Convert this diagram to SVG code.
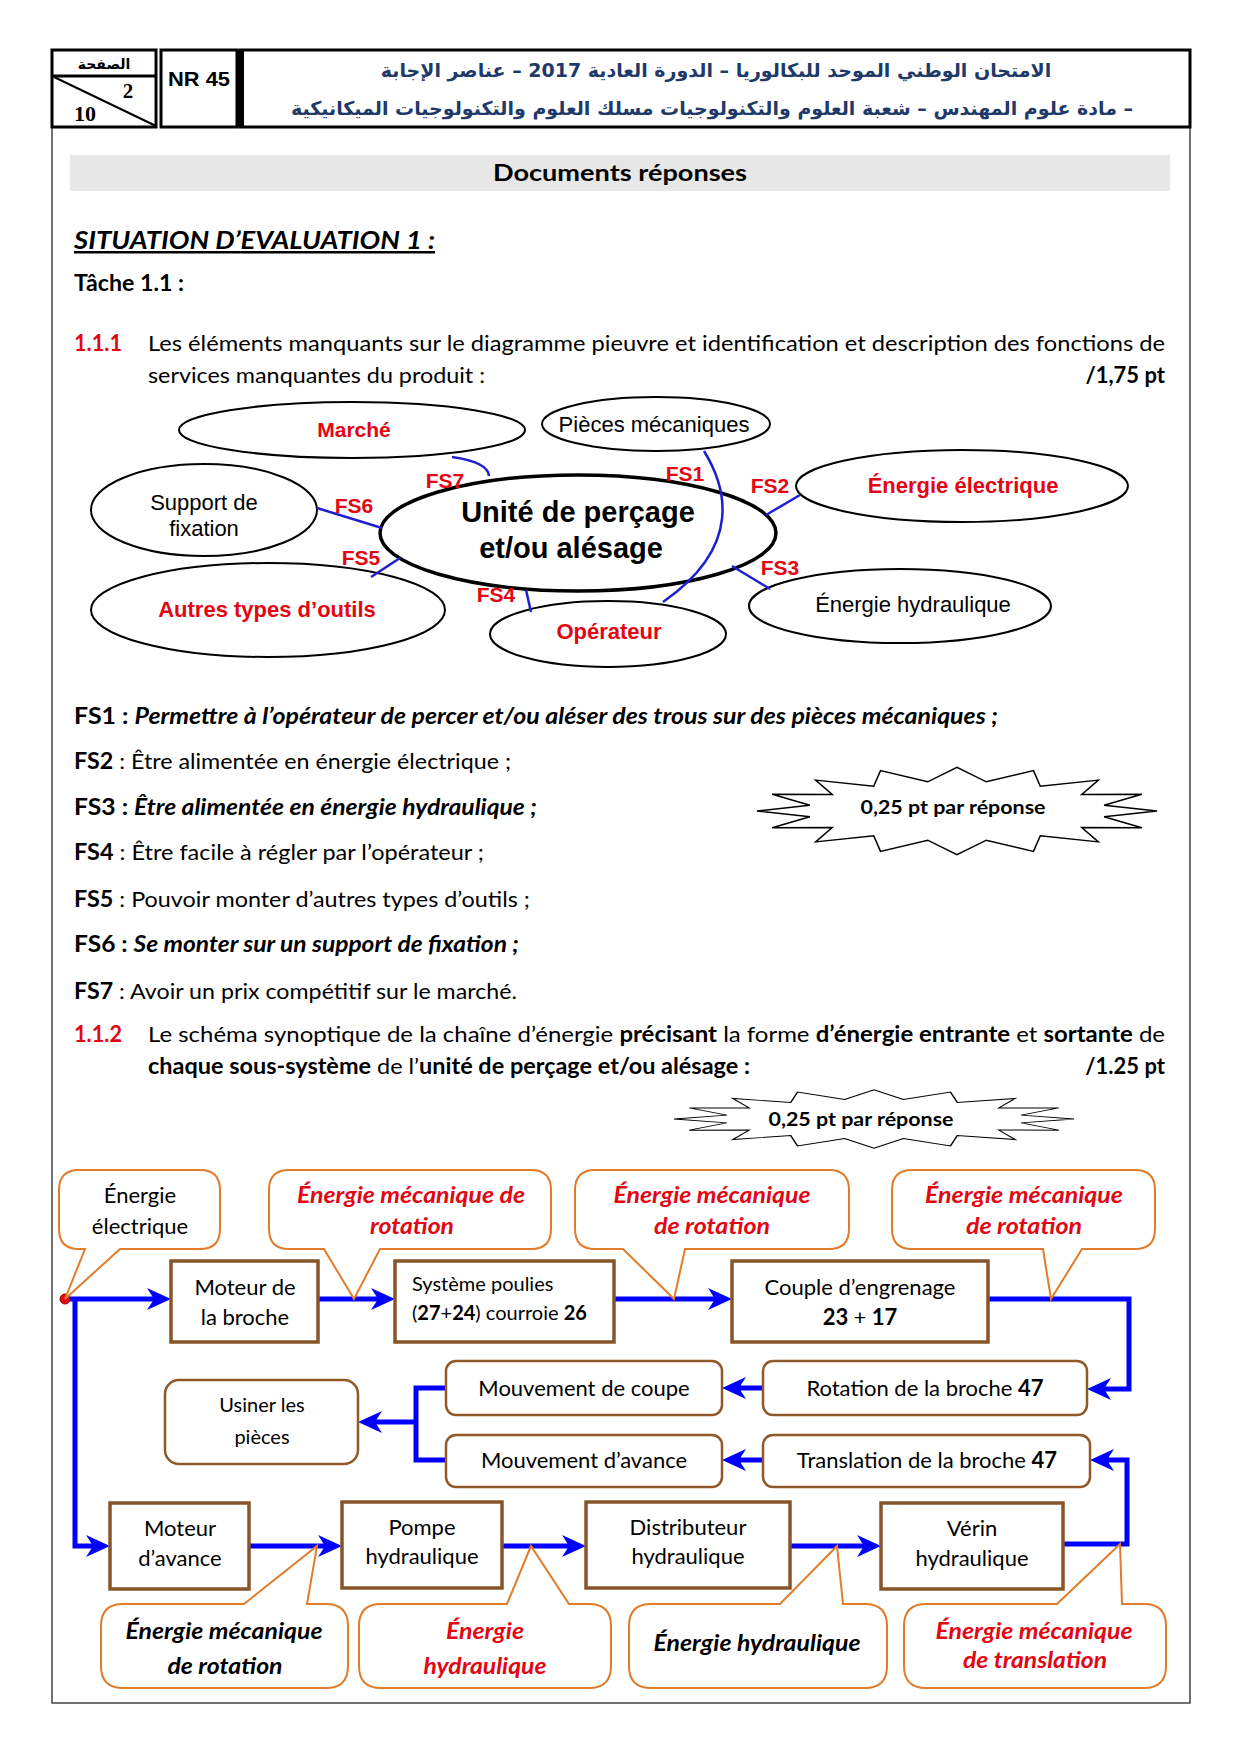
<svg xmlns="http://www.w3.org/2000/svg" xmlns:xlink="http://www.w3.org/1999/xlink" width="1240" height="1754" viewBox="0 0 1240 1754">
<style>
.c{font-family:Lato,"Open Sans","Liberation Sans",sans-serif;fill:#000}
.a{font-family:"Liberation Sans",Arial,sans-serif;fill:#000}
.ar{font-family:"DejaVu Sans",sans-serif;font-weight:bold;fill:#1F3A68}
.b{font-weight:bold}
.i{font-style:italic}
.red{fill:#E30613}
.mid{text-anchor:middle}
.end{text-anchor:end}
.fr{stroke:#000;fill:none}
.box{fill:#fff;stroke:#86552A;stroke-width:3.5}
.rbox{fill:#fff;stroke:#8F5A28;stroke-width:2.5}
.call{fill:#fff;stroke:#E07C2A;stroke-width:2}
.ell{fill:#fff;stroke:#000;stroke-width:2}
.pl{fill:none;stroke:#1F1FD0;stroke-width:2.5}
.fl{fill:none;stroke:#0000FF;stroke-width:5}
.fa{marker-end:url(#ar)}
.burst{fill:#fff;stroke:#000;stroke-width:1.5}
</style>
<defs>
<marker id="ar" markerUnits="userSpaceOnUse" markerWidth="26" markerHeight="24" refX="12" refY="12" orient="auto">
<path d="M0,1 L24,12 L0,23 L7,12 Z" fill="#0000FF"/>
</marker>
<polygon id="star" points="200,0 147.1,6.2 184.8,18 124.7,17.8 141.4,33.2 83.3,26.6 76.5,43.4 29.3,31.4 0,47 -29.3,31.4 -76.5,43.4 -83.3,26.6 -141.4,33.2 -124.7,17.8 -184.8,18 -147.1,6.2 -200,0 -147.1,-6.2 -184.8,-18 -124.7,-17.8 -141.4,-33.2 -83.3,-26.6 -76.5,-43.4 -29.3,-31.4 0,-47 29.3,-31.4 76.5,-43.4 83.3,-26.6 141.4,-33.2 124.7,-17.8 184.8,-18 147.1,-6.2"/>
</defs>
<rect width="1240" height="1754" fill="#fff"/>

<!-- page frame -->
<g id="frame">
<path d="M52,127 V1703 H1190 V127" fill="none" stroke="#444" stroke-width="1.5"/>
</g>

<!-- header -->
<g id="header">
<rect x="52" y="50" width="104" height="77" class="fr" stroke-width="3"/>
<line x1="52" y1="76" x2="156" y2="76" stroke="#000" stroke-width="3"/>
<line x1="54" y1="77" x2="156" y2="126" stroke="#000" stroke-width="2"/>
<text x="104" y="69" class="ar mid" style="fill:#000" font-size="14">الصفحة</text>
<text x="128" y="98" font-family="Liberation Serif,serif" font-weight="bold" font-size="21" text-anchor="middle">2</text>
<text x="85" y="121" font-family="Liberation Serif,serif" font-weight="bold" font-size="22" text-anchor="middle">10</text>
<rect x="161" y="50" width="76" height="77" class="fr" stroke-width="3"/>
<text x="199" y="86" class="a b mid" font-size="21" textLength="62" lengthAdjust="spacingAndGlyphs">NR 45</text>
<rect x="240" y="50" width="950" height="77" class="fr" stroke-width="3"/>
<line x1="241" y1="50" x2="241" y2="127" stroke="#000" stroke-width="6"/>
<text x="716" y="77" class="ar mid" font-size="19" direction="rtl">الامتحان الوطني الموحد للبكالوريا – الدورة العادية 2017 – عناصر الإجابة</text>
<text x="712" y="115" class="ar mid" font-size="19" direction="rtl">– مادة علوم المهندس –  شعبة العلوم والتكنولوجيات مسلك العلوم والتكنولوجيات الميكانيكية</text>
</g>

<!-- titles -->
<g id="titles">
<rect x="70" y="155" width="1100" height="36" fill="#E7E7E7"/>
<text x="620" y="181" class="c b mid" font-size="23" textLength="254" lengthAdjust="spacingAndGlyphs">Documents réponses</text>
<text x="74" y="249" class="c b i" font-size="25" text-decoration="underline" textLength="361" lengthAdjust="spacingAndGlyphs">SITUATION D’EVALUATION 1 :</text>
<text x="74" y="291" class="c b" font-size="22" textLength="110" lengthAdjust="spacingAndGlyphs">Tâche 1.1 :</text>
<text x="74" y="351" class="c b red" font-size="22" textLength="48" lengthAdjust="spacingAndGlyphs">1.1.1</text>
<text x="148" y="351" class="c" font-size="22" textLength="1017" lengthAdjust="spacingAndGlyphs">Les éléments manquants sur le diagramme pieuvre et identification et description des fonctions de</text>
<text x="148" y="383" class="c" font-size="22" textLength="337" lengthAdjust="spacingAndGlyphs">services manquantes du produit :</text>
<text x="1165" y="383" class="c b end" font-size="22">/1,75 pt</text>
</g>

<!-- pieuvre nodes -->
<g id="n-marche"><ellipse cx="352" cy="430" rx="173" ry="28" class="ell"/><text x="354" y="437" class="a b red mid" font-size="21">Marché</text></g>
<g id="n-pieces"><ellipse cx="656" cy="424" rx="114" ry="27" class="ell"/><text x="654" y="432" class="a mid" font-size="22">Pièces mécaniques</text></g>
<g id="n-support"><ellipse cx="204" cy="510" rx="113" ry="46" class="ell"/><text x="204" y="510" class="a mid" font-size="22">Support de</text><text x="204" y="536" class="a mid" font-size="22">fixation</text></g>
<g id="n-central"><ellipse cx="578" cy="533" rx="198" ry="58" fill="#fff" stroke="#000" stroke-width="3.5"/><text x="578" y="522" class="a b mid" font-size="29">Unité de perçage</text><text x="571" y="558" class="a b mid" font-size="29">et/ou alésage</text></g>
<g id="n-elec"><ellipse cx="962" cy="486" rx="166" ry="36" class="ell"/><text x="963" y="493" class="a b red mid" font-size="22">Énergie électrique</text></g>
<g id="n-autres"><ellipse cx="268" cy="610" rx="177" ry="47" class="ell"/><text x="267" y="617" class="a b red mid" font-size="22">Autres types d’outils</text></g>
<g id="n-operateur"><ellipse cx="608" cy="634" rx="118" ry="33" class="ell"/><text x="609" y="639" class="a b red mid" font-size="22">Opérateur</text></g>
<g id="n-hydro"><ellipse cx="900" cy="606" rx="151" ry="37" class="ell"/><text x="913" y="612" class="a mid" font-size="22">Énergie hydraulique</text></g>

<!-- pieuvre connectors -->
<g id="pieuvre-connectors">
<path class="pl" d="M452,457 Q488,462 489,476"/>
<path class="pl" d="M704,451 C725,485 745,545 663,602"/>
<path class="pl" d="M766,515 L800,495"/>
<path class="pl" d="M732,566 L770,589"/>
<path class="pl" d="M526,590 L531,612"/>
<path class="pl" d="M400,558 L371,577"/>
<path class="pl" d="M317,508 L382,528"/>
<g class="a b red" font-size="21" text-anchor="middle">
<text x="445" y="488">FS7</text>
<text x="685" y="481">FS1</text>
<text x="770" y="493">FS2</text>
<text x="780" y="575">FS3</text>
<text x="496" y="602">FS4</text>
<text x="361" y="565">FS5</text>
<text x="354" y="513">FS6</text>
</g>
</g>

<!-- FS list -->
<g id="fs-list" class="c" font-size="22">
<text x="74" y="724" textLength="924" lengthAdjust="spacingAndGlyphs"><tspan class="b">FS1 : </tspan><tspan class="b i">Permettre à l’opérateur de percer et/ou aléser des trous sur des pièces mécaniques ;</tspan></text>
<text x="74" y="769" textLength="437" lengthAdjust="spacingAndGlyphs"><tspan class="b">FS2</tspan> : Être alimentée en énergie électrique ;</text>
<text x="74" y="815" textLength="463" lengthAdjust="spacingAndGlyphs"><tspan class="b">FS3 : </tspan><tspan class="b i">Être alimentée en énergie hydraulique ;</tspan></text>
<text x="74" y="860" textLength="410" lengthAdjust="spacingAndGlyphs"><tspan class="b">FS4</tspan> : Être facile à régler par l’opérateur ;</text>
<text x="74" y="907" textLength="456" lengthAdjust="spacingAndGlyphs"><tspan class="b">FS5</tspan> : Pouvoir monter d’autres types d’outils ;</text>
<text x="74" y="952" textLength="445" lengthAdjust="spacingAndGlyphs"><tspan class="b">FS6 : </tspan><tspan class="b i">Se monter sur un support de fixation ;</tspan></text>
<text x="74" y="999" textLength="443" lengthAdjust="spacingAndGlyphs"><tspan class="b">FS7</tspan> : Avoir un prix compétitif sur le marché.</text>
</g>

<g id="burst1">
<use xlink:href="#star" href="#star" class="burst" transform="translate(957,811) scale(1,0.93)"/>
<text x="953" y="814" class="c b mid" font-size="19" textLength="185" lengthAdjust="spacingAndGlyphs">0,25 pt par réponse</text>
</g>

<!-- 1.1.2 -->
<g id="q112" class="c" font-size="22">
<text x="74" y="1042" class="b red" textLength="48" lengthAdjust="spacingAndGlyphs">1.1.2</text>
<text x="148" y="1042" textLength="1017" lengthAdjust="spacingAndGlyphs">Le schéma synoptique de la chaîne d’énergie <tspan class="b">précisant</tspan> la forme <tspan class="b">d’énergie entrante</tspan> et <tspan class="b">sortante</tspan> de</text>
<text x="148" y="1074" textLength="602" lengthAdjust="spacingAndGlyphs"><tspan class="b">chaque sous-système</tspan> de l’<tspan class="b">unité de perçage et/ou alésage :</tspan></text>
<text x="1165" y="1074" class="b end">/1.25 pt</text>
</g>

<g id="burst2">
<use xlink:href="#star" href="#star" class="burst" transform="translate(874,1119) scale(1,0.62)"/>
<text x="861" y="1126" class="c b mid" font-size="19" textLength="185" lengthAdjust="spacingAndGlyphs">0,25 pt par réponse</text>
</g>

<!-- flow connectors -->
<g id="flow-connectors">
<path class="fl fa" d="M65,1299 H159"/>
<path class="fl fa" d="M318,1299 H383"/>
<path class="fl fa" d="M614,1299 H720"/>
<path class="fl fa" d="M988,1299 H1129 V1389 H1099"/>
<path class="fl fa" d="M763,1388 H734"/>
<path class="fl fa" d="M763,1460 H734"/>
<path class="fl" d="M446,1388 H416 V1460 H446"/>
<path class="fl fa" d="M416,1422 H370"/>
<path class="fl fa" d="M75,1299 V1546 H98"/>
<path class="fl fa" d="M249,1546 H330"/>
<path class="fl fa" d="M502,1546 H574"/>
<path class="fl fa" d="M790,1546 H869"/>
<path class="fl fa" d="M1063,1544 H1127 V1460 H1102"/>
<circle cx="65" cy="1299" r="5" fill="#E30613" stroke="#900" stroke-width="1"/>
</g>

<!-- top callouts -->
<g id="c-elec"><path class="call" d="M79,1170 H200 Q220,1170 220,1190 V1229 Q220,1249 200,1249 H120 L65,1299 L85,1249 H79 Q59,1249 59,1229 V1190 Q59,1170 79,1170 Z"/>
<text x="140" y="1203" class="c mid" font-size="22">Énergie</text><text x="140" y="1234" class="c mid" font-size="22">électrique</text></g>
<g id="c-rot1"><path class="call" d="M289,1170 H531 Q551,1170 551,1190 V1229 Q551,1249 531,1249 H380 L354,1299 L324,1249 H289 Q269,1249 269,1229 V1190 Q269,1170 289,1170 Z"/>
<text x="411" y="1203" class="c b i red mid" font-size="23" textLength="228" lengthAdjust="spacingAndGlyphs">Énergie mécanique de</text><text x="412" y="1234" class="c b i red mid" font-size="23" textLength="84" lengthAdjust="spacingAndGlyphs">rotation</text></g>
<g id="c-rot2"><path class="call" d="M595,1170 H829 Q849,1170 849,1190 V1229 Q849,1249 829,1249 H685 L674,1299 L623,1249 H595 Q575,1249 575,1229 V1190 Q575,1170 595,1170 Z"/>
<text x="712" y="1203" class="c b i red mid" font-size="23" textLength="197" lengthAdjust="spacingAndGlyphs">Énergie mécanique</text><text x="712" y="1234" class="c b i red mid" font-size="23" textLength="116" lengthAdjust="spacingAndGlyphs">de rotation</text></g>
<g id="c-rot3"><path class="call" d="M912,1170 H1135 Q1155,1170 1155,1190 V1229 Q1155,1249 1135,1249 H1082 L1051,1299 L1043,1249 H912 Q892,1249 892,1229 V1190 Q892,1170 912,1170 Z"/>
<text x="1024" y="1203" class="c b i red mid" font-size="23" textLength="198" lengthAdjust="spacingAndGlyphs">Énergie mécanique</text><text x="1024" y="1234" class="c b i red mid" font-size="23" textLength="116" lengthAdjust="spacingAndGlyphs">de rotation</text></g>

<!-- row 1 boxes -->
<g id="b-moteur-broche"><rect x="171" y="1261" width="147" height="81" class="box"/>
<text x="245" y="1295" class="c mid" font-size="22">Moteur de</text><text x="245" y="1325" class="c mid" font-size="22">la broche</text></g>
<g id="b-poulies"><rect x="395" y="1261" width="219" height="81" class="box"/>
<text x="412" y="1291" class="c" font-size="20">Système poulies</text><text x="412" y="1320" class="c" font-size="20">(<tspan class="b">27</tspan>+<tspan class="b">24</tspan>) courroie <tspan class="b">26</tspan></text></g>
<g id="b-engrenage"><rect x="732" y="1261" width="256" height="81" class="box"/>
<text x="860" y="1295" class="c mid" font-size="22">Couple d’engrenage</text><text x="860" y="1325" class="c b mid" font-size="22">23 <tspan font-weight="normal">+</tspan> 17</text></g>

<!-- row 2 -->
<g id="b-rotation"><rect x="763" y="1361" width="324" height="54" rx="10" class="rbox"/>
<text x="925" y="1396" class="c mid" font-size="22">Rotation de la broche <tspan class="b">47</tspan></text></g>
<g id="b-coupe"><rect x="446" y="1361" width="276" height="54" rx="10" class="rbox"/>
<text x="584" y="1396" class="c mid" font-size="22">Mouvement de coupe</text></g>
<g id="b-translation"><rect x="763" y="1435" width="327" height="52" rx="10" class="rbox"/>
<text x="927" y="1468" class="c mid" font-size="22">Translation de la broche <tspan class="b">47</tspan></text></g>
<g id="b-avance-mvt"><rect x="446" y="1435" width="276" height="52" rx="10" class="rbox"/>
<text x="584" y="1468" class="c mid" font-size="22">Mouvement d’avance</text></g>
<g id="b-usiner"><rect x="165" y="1380" width="193" height="84" rx="14" class="rbox"/>
<text x="262" y="1412" class="c mid" font-size="20">Usiner les</text><text x="262" y="1444" class="c mid" font-size="20">pièces</text></g>

<!-- row 3 boxes -->
<g id="b-moteur-avance"><rect x="110" y="1503" width="139" height="86" class="box"/>
<text x="180" y="1536" class="c mid" font-size="22">Moteur</text><text x="180" y="1566" class="c mid" font-size="22">d’avance</text></g>
<g id="b-pompe"><rect x="342" y="1502" width="160" height="86" class="box"/>
<text x="422" y="1535" class="c mid" font-size="22">Pompe</text><text x="422" y="1564" class="c mid" font-size="22">hydraulique</text></g>
<g id="b-distributeur"><rect x="586" y="1502" width="204" height="86" class="box"/>
<text x="688" y="1535" class="c mid" font-size="22">Distributeur</text><text x="688" y="1564" class="c mid" font-size="22">hydraulique</text></g>
<g id="b-verin"><rect x="881" y="1503" width="182" height="86" class="box"/>
<text x="972" y="1536" class="c mid" font-size="22">Vérin</text><text x="972" y="1566" class="c mid" font-size="22">hydraulique</text></g>

<!-- bottom callouts -->
<g id="c-b1"><path class="call" d="M123,1604 H244 L317,1546 L307,1604 H326 Q348,1604 348,1626 V1666 Q348,1688 326,1688 H123 Q101,1688 101,1666 V1626 Q101,1604 123,1604 Z"/>
<text x="224" y="1639" class="c b i mid" font-size="23" textLength="197" lengthAdjust="spacingAndGlyphs">Énergie mécanique</text><text x="225" y="1674" class="c b i mid" font-size="23" textLength="115" lengthAdjust="spacingAndGlyphs">de rotation</text></g>
<g id="c-b2"><path class="call" d="M381,1604 H507 L531,1546 L569,1604 H589 Q611,1604 611,1626 V1666 Q611,1688 589,1688 H381 Q359,1688 359,1666 V1626 Q359,1604 381,1604 Z"/>
<text x="485" y="1639" class="c b i red mid" font-size="23" textLength="78" lengthAdjust="spacingAndGlyphs">Énergie</text><text x="485" y="1674" class="c b i red mid" font-size="23" textLength="123" lengthAdjust="spacingAndGlyphs">hydraulique</text></g>
<g id="c-b3"><path class="call" d="M651,1604 H780 L837,1546 L843,1604 H865 Q887,1604 887,1626 V1666 Q887,1688 865,1688 H651 Q629,1688 629,1666 V1626 Q629,1604 651,1604 Z"/>
<text x="757" y="1651" class="c b i mid" font-size="23" textLength="207" lengthAdjust="spacingAndGlyphs">Énergie hydraulique</text></g>
<g id="c-b4"><path class="call" d="M926,1604 H1057 L1120,1544 L1122,1604 H1144 Q1166,1604 1166,1626 V1666 Q1166,1688 1144,1688 H926 Q904,1688 904,1666 V1626 Q904,1604 926,1604 Z"/>
<text x="1034" y="1639" class="c b i red mid" font-size="23" textLength="197" lengthAdjust="spacingAndGlyphs">Énergie mécanique</text><text x="1035" y="1668" class="c b i red mid" font-size="23" textLength="144" lengthAdjust="spacingAndGlyphs">de translation</text></g>
</svg>
